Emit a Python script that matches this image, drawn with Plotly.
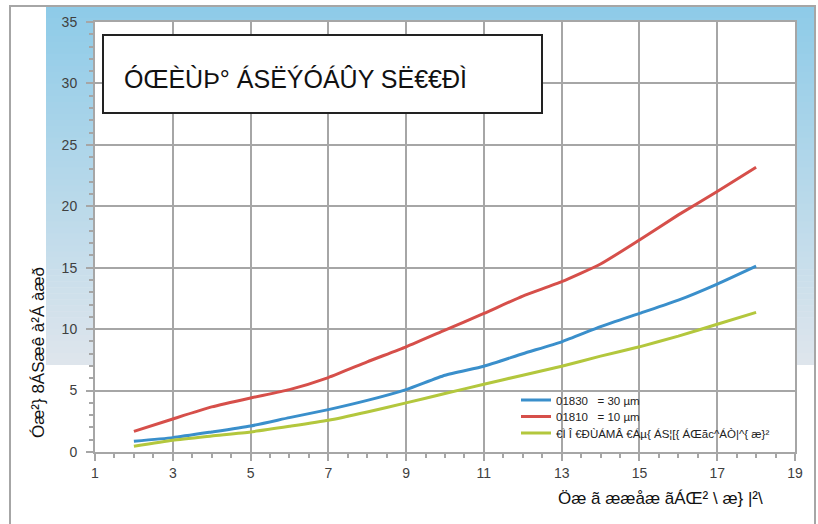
import plotly.graph_objects as go

# ---- data ----
x_vals = [2, 3, 4, 5, 6, 7, 8, 9, 10, 11, 12, 13, 14, 15, 16, 17, 18]
blue_30um = [0.87, 1.17, 1.63, 2.12, 2.8, 3.45, 4.2, 5.08, 6.25, 6.98, 8.0, 8.97, 10.2, 11.28, 12.36, 13.67, 15.13]
red_10um = [1.68, 2.69, 3.67, 4.4, 5.08, 6.06, 7.34, 8.56, 9.92, 11.28, 12.69, 13.86, 15.3, 17.26, 19.3, 21.2, 23.18]
green_ref = [0.46, 0.95, 1.3, 1.63, 2.09, 2.58, 3.26, 4.0, 4.76, 5.52, 6.25, 6.98, 7.8, 8.56, 9.43, 10.4, 11.36]

series_names = ["01830   = 30 µm", "01810   = 10 µm", "€Ì Î €ÐÙÁMÂ €Áµ{ ÁS¦[{ ÁŒãc^ÁÒ|^{ æ}²"]
chart_title = "ÓŒÈÙÞ° ÁSËÝÓÁÛY SË€€ÐÌ"
y_title = "Óæ²} 8ÁSæê à²Á àæð"
x_title = "Öæ ã ææåæ ãÁŒ² \\ æ} |²\\"
x_ticks = [1, 3, 5, 7, 9, 11, 13, 15, 17, 19]
y_ticks = [0, 5, 10, 15, 20, 25, 30, 35]

# ---- geometry helpers (pixel -> paper) ----
W, H = 818, 524
L, R, T, B = 95, 795, 22, 452


def px(x):
    return (x - L) / (R - L)


def py(y):
    return (B - y) / (B - T)


fig = go.Figure()
colors = ["#3A8FCB", "#D64F4A", "#B3C73D"]
legend_ids = ["legend", "legend2", "legend3"]
for ys, name, c, lg in zip([blue_30um, red_10um, green_ref], series_names, colors, legend_ids):
    fig.add_trace(go.Scatter(x=x_vals, y=ys, mode="lines", name=name, legend=lg,
                             line=dict(color=c, width=3, shape="spline", smoothing=0.5)))

shapes = []
# gradient background band
top_px, bot_px = 6, 365
n = 60
c0 = (142, 203, 232)
c1 = (222, 229, 236)
for i in range(n):
    t = i / (n - 1)
    col = tuple(int(round(c0[k] + (c1[k] - c0[k]) * t)) for k in range(3))
    y0 = top_px + (bot_px - top_px) * i / n
    y1 = top_px + (bot_px - top_px) * (i + 1) / n + 0.6
    shapes.append(dict(type="rect", xref="paper", yref="paper", layer="below",
                       x0=px(46), x1=px(815), y0=py(y0), y1=py(min(y1, bot_px)),
                       fillcolor="rgb(%d,%d,%d)" % col, line=dict(width=0)))
# white plot area
shapes.append(dict(type="rect", xref="paper", yref="paper", layer="below",
                   x0=0, x1=1, y0=0, y1=1, fillcolor="white", line=dict(width=0)))
# outer frame
shapes.append(dict(type="rect", xref="paper", yref="paper", layer="below",
                   x0=px(10), x1=px(815), y0=py(540), y1=py(6),
                   fillcolor="rgba(0,0,0,0)", line=dict(color="#A6A6A6", width=2)))
# title box
shapes.append(dict(type="rect", xref="paper", yref="paper", layer="above",
                   x0=px(103), x1=px(542), y0=py(113), y1=py(35),
                   fillcolor="white", line=dict(color="#222222", width=2)))

annotations = [
    dict(text=chart_title, xref="paper", yref="paper", x=px(122), y=py(79),
         xanchor="left", yanchor="middle", showarrow=False,
         font=dict(family="Liberation Sans", size=25, color="#111111")),
    dict(text=y_title, xref="paper", yref="paper", x=px(38), y=py(353),
         xanchor="center", yanchor="middle", showarrow=False, textangle=-90,
         font=dict(family="Liberation Sans", size=17, color="#111111")),
    dict(text=x_title, xref="paper", yref="paper", x=px(660), y=py(498),
         xanchor="center", yanchor="middle", showarrow=False,
         font=dict(family="Liberation Sans", size=17, color="#111111")),
]

axis_common = dict(showgrid=True, gridcolor="#A6A6A6", gridwidth=1.5,
                   showline=True, linecolor="#A6A6A6", linewidth=2, mirror=True,
                   ticks="outside", ticklen=7, tickcolor="#A6A6A6", tickwidth=1.5,
                   zeroline=False,
                   tickfont=dict(family="Liberation Sans", size=14, color="#404040"))

legend_style = dict(xanchor="left", yanchor="middle", bgcolor="rgba(255,255,255,0)",
                    itemwidth=30,
                    font=dict(family="Liberation Sans", size=11.5, color="#222222"))

fig.update_layout(
    width=W, height=H,
    margin=dict(l=L, r=W - R, t=T, b=H - B),
    paper_bgcolor="white", plot_bgcolor="white",
    shapes=shapes, annotations=annotations,
    xaxis=dict(range=[1, 19], tickvals=x_ticks,
               minor=dict(dtick=0.5, tick0=1, ticks="outside", ticklen=4,
                          tickcolor="#A6A6A6", showgrid=False),
               **axis_common),
    yaxis=dict(range=[0, 35], tickvals=y_ticks, ticklabelstandoff=6,
               minor=dict(dtick=1, tick0=0, ticks="outside", ticklen=4,
                          tickcolor="#A6A6A6", showgrid=False),
               **axis_common),
    legend=dict(x=px(516), y=py(400), **legend_style),
    legend2=dict(x=px(516), y=py(416.5), **legend_style),
    legend3=dict(x=px(516), y=py(433), **legend_style),
    showlegend=True,
)

fig.write_html("out.html", config={"displayModeBar": False},
               post_script="document.body.style.margin='0';")
